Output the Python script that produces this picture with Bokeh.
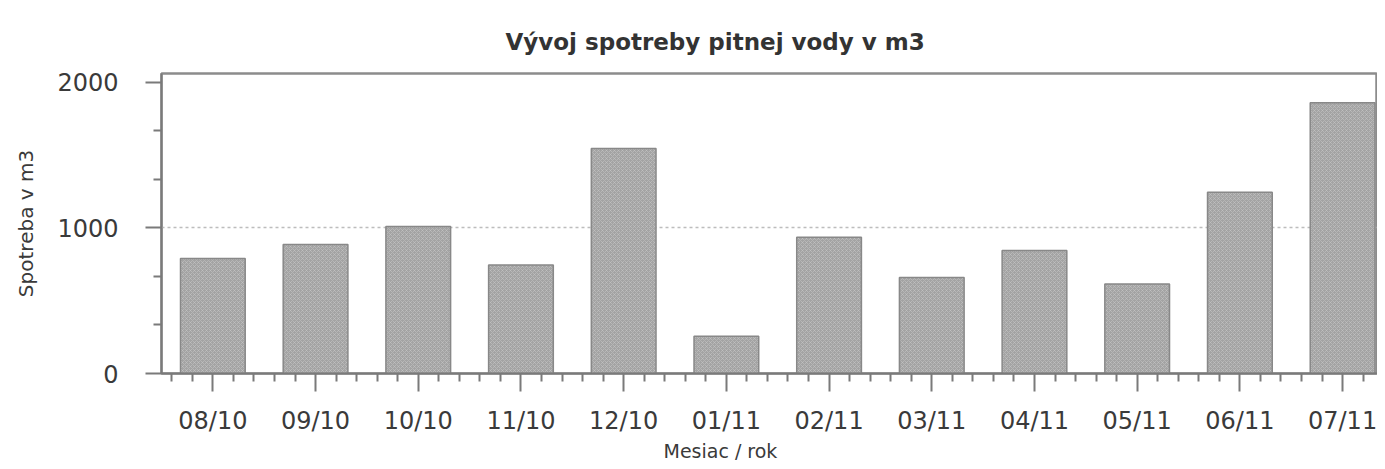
from bokeh.plotting import figure
from bokeh.models import Range1d, FixedTicker, Title, ColumnDataSource
from bokeh.embed import file_html
from bokeh.resources import INLINE

# ---- data ----
months = ["08/10", "09/10", "10/10", "11/10", "12/10", "01/11",
          "02/11", "03/11", "04/11", "05/11", "06/11", "07/11"]
consumption = [790, 885, 1010, 745, 1545, 255, 935, 660, 845, 615, 1245, 1860]
y_ticks = [0, 1000, 2000]
title_text = "Vývoj spotreby pitnej vody v m3"
x_label = "Mesiac / rok"
y_label = "Spotreba v m3"

n = len(months)
pos = list(range(n))
src = ColumnDataSource(dict(x=pos, top=consumption, m=months))

FONT = "DejaVu Sans"
TXT = "#3a3a3a"
AX = "#7a7a7a"

p = figure(width=1377, height=461, output_backend="svg", toolbar_location=None,
           x_range=Range1d(-0.5, n - 0.66), y_range=Range1d(0, 2060),
           min_border_left=161, min_border_right=0, min_border_top=73,
           min_border_bottom=87, background_fill_color="white",
           border_fill_color="white")

p.title = Title(text=title_text, align="left", offset=344, text_font=FONT,
                text_font_size="23px", text_font_style="bold", text_color="#333333",
                standoff=38)

p.vbar(x="x", top="top", width=0.63, source=src, fill_color="#a3a3a3",
       line_color="#888888", line_width=1.5, hatch_pattern="x",
       hatch_color="#c4c4c4", hatch_scale=4, hatch_alpha=0.6, hatch_weight=1)

# x axis
minor_x = [i + k / 5 for i in range(-1, n) for k in range(1, 5)]
p.xaxis.ticker = FixedTicker(ticks=pos, minor_ticks=minor_x)
p.xaxis.major_label_overrides = {i: m for i, m in zip(pos, months)}
p.xaxis.major_tick_out = 18
p.xaxis.major_tick_in = 0
p.xaxis.minor_tick_out = 8
p.xaxis.minor_tick_in = 0
p.xaxis.major_label_standoff = 15
p.xaxis.major_label_text_font = FONT
p.xaxis.major_label_text_font_size = "24px"
p.xaxis.major_label_text_color = TXT

# y axis
minor_y = [y_ticks[i] + (y_ticks[i + 1] - y_ticks[i]) * k / 3
           for i in range(len(y_ticks) - 1) for k in (1, 2)]
p.yaxis.ticker = FixedTicker(ticks=y_ticks, minor_ticks=minor_y)
p.yaxis.major_tick_out = 16
p.yaxis.major_tick_in = 0
p.yaxis.minor_tick_out = 8
p.yaxis.minor_tick_in = 0
p.yaxis.major_label_standoff = 27
p.yaxis.major_label_text_font = FONT
p.yaxis.major_label_text_font_size = "24px"
p.yaxis.major_label_text_color = TXT
p.yaxis.axis_label = y_label
p.yaxis.axis_label_standoff = 16
p.yaxis.axis_label_text_font = FONT
p.yaxis.axis_label_text_font_size = "20px"
p.yaxis.axis_label_text_font_style = "normal"
p.yaxis.axis_label_text_color = TXT

for ax in (p.xaxis, p.yaxis):
    ax.axis_line_color = AX
    ax.axis_line_width = 2
    ax.major_tick_line_color = AX
    ax.major_tick_line_width = 2
    ax.minor_tick_line_color = AX
    ax.minor_tick_line_width = 2

p.add_layout(Title(text=x_label, align="left", offset=502, text_font=FONT,
                   text_font_size="19px", text_font_style="normal",
                   text_color=TXT, standoff=0), "below")

p.xgrid.visible = False
p.ygrid.ticker = FixedTicker(ticks=[1000])
p.ygrid.grid_line_color = "#bdbdbd"
p.ygrid.grid_line_dash = "3 3"
p.ygrid.grid_line_width = 1.5

p.outline_line_color = "#8c8c8c"
p.outline_line_width = 2.5

open("out.html", "w").write(file_html(p, INLINE))
